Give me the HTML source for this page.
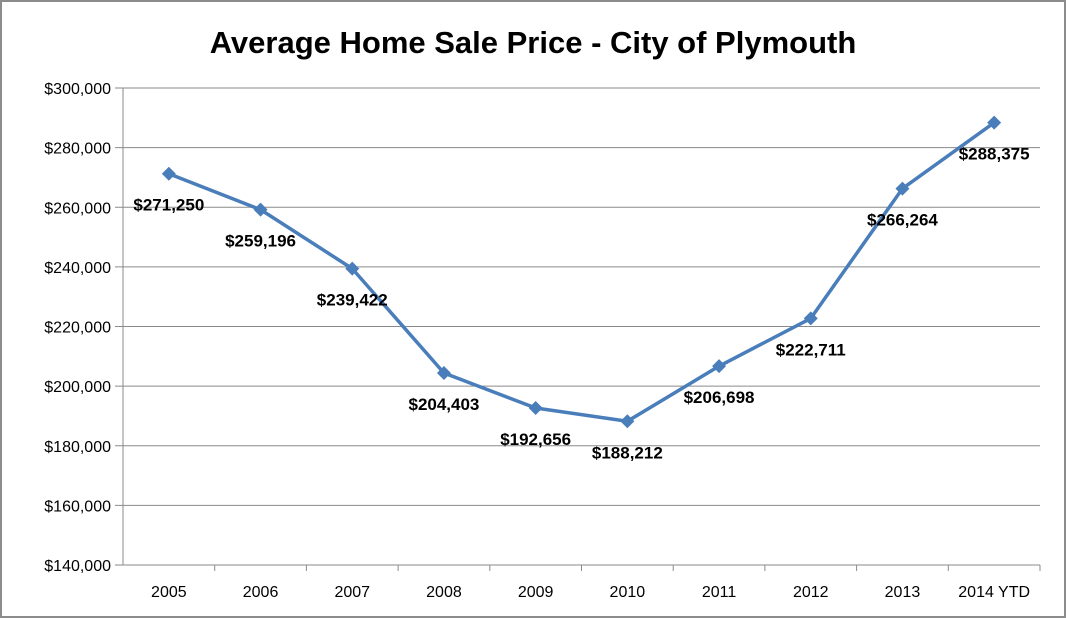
<!DOCTYPE html>
<html><head><meta charset="utf-8"><style>
body{margin:0;background:#fff}
svg{display:block;font-family:"Liberation Sans",sans-serif}
</style></head><body>
<svg id="c" width="1066" height="618">
<rect x="1" y="1" width="1064" height="616" fill="#fff" stroke="#8c8c8c" stroke-width="2"/>
<text x="533" y="53" text-anchor="middle" font-size="31" font-weight="bold">Average Home Sale Price - City of Plymouth</text>
<g id="grid"></g><g id="axes"></g><g id="series"></g>
</svg>
<script>
const categories=["2005","2006","2007","2008","2009","2010","2011","2012","2013","2014 YTD"];
const values=[271250,259196,239422,204403,192656,188212,206698,222711,266264,288375];
const yTicks=[140000,160000,180000,200000,220000,240000,260000,280000,300000];
const L=123,R=1040,T=88,B=565,yMin=140000,yMax=300000;
const cw=(R-L)/categories.length;
const x=i=>L+cw*(i+0.5);
const y=v=>B-(v-yMin)/(yMax-yMin)*(B-T);
const NS="http://www.w3.org/2000/svg";
function mk(t,a,p){const e=document.createElementNS(NS,t);for(const k in a)e.setAttribute(k,a[k]);p.appendChild(e);return e;}
const fmt=v=>"$"+v.toLocaleString("en-US");
const g=document.getElementById('grid'),ax=document.getElementById('axes'),s=document.getElementById('series');
yTicks.forEach(v=>{
 const l=mk('line',{x1:115,x2:R,y1:y(v),y2:y(v),stroke:'#8a8a8a','stroke-width':1},g);
 
 
 const t=mk('text',{x:111,y:y(v)+6,'text-anchor':'end','font-size':16},ax);
 t.textContent=fmt(v);
 
 
});
const ya=mk('line',{x1:L,x2:L,y1:T,y2:B,stroke:'#8a8a8a'},ax);


categories.forEach((c,i)=>{
 const tk=mk('line',{x1:L+cw*(i+1),x2:L+cw*(i+1),y1:B,y2:B+6,stroke:'#8a8a8a'},ax);
 
 
 const t=mk('text',{x:x(i),y:B+32,'text-anchor':'middle','font-size':16},ax);
 t.textContent=c;
 
 
});
const ln=mk('polyline',{points:values.map((v,i)=>x(i)+','+y(v)).join(' '),fill:'none',stroke:'#4a7ebb','stroke-width':3.5,'stroke-linejoin':'round'},s);


values.forEach((v,i)=>{
 const cx=x(i),cy=y(v);
 const p=mk('polygon',{points:`${cx},${cy-7} ${cx+7},${cy} ${cx},${cy+7} ${cx-7},${cy}`,fill:'#4a7ebb'},s);
 
 
 const t=mk('text',{x:cx,y:cy+37,'text-anchor':'middle','font-size':17,'font-weight':'bold'},s);
 t.textContent=fmt(v);
 
 
});
</script>
</body></html>
